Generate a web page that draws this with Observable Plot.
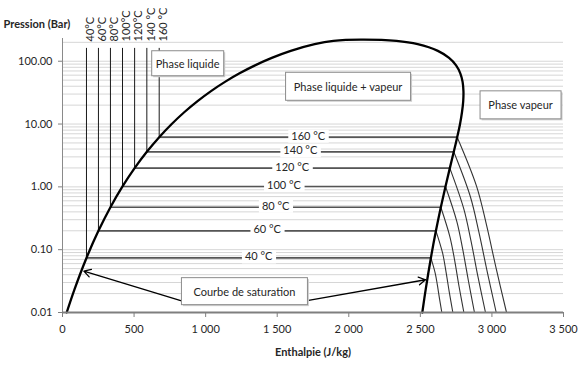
<!DOCTYPE html>
<html><head><meta charset="utf-8">
<script src="https://cdn.jsdelivr.net/npm/d3@7"></script>
<script src="https://cdn.jsdelivr.net/npm/@observablehq/plot@0.6"></script>
<style>body{margin:0;background:#fff;}</style>
</head><body><div id="chart"></div>
<script>
// Isotherms (°C) with saturation pressure (bar), liquid & vapour enthalpy
const tempsC   = [40, 60, 80, 100, 120, 140, 160];
const pSat     = [0.07384, 0.1995, 0.4739, 1.0142, 1.9867, 3.6154, 6.1823];
const hLiquid  = [167.5, 251.1, 334.9, 419.2, 503.8, 589.2, 675.5];
const hVapour  = [2573.5, 2608.8, 2643.0, 2675.6, 2705.9, 2733.4, 2757.4];
const topLabels = ["40°C", "60°C", "80°C", "100°C", "120°C", "140 °C", "160 °C"];
const midLabels = ["40 °C", "60 °C", "80 °C", "100 °C", "120 °C", "140 °C", "160 °C"];
const pLiquidTop = 160;

// Saturation dome
const satH = [29.3, 83.9, 167.5, 251.1, 334.9, 419.2, 503.8, 589.2, 675.5, 763.1, 852.3, 943.6, 1037.6, 1135.0, 1236.9, 1345.0, 1462.2, 1594.5, 1761.7, 1892.6, 2084.3,
              2333.5, 2481.5, 2622.2, 2700.6, 2749.6, 2779.0, 2795.1, 2801.0, 2799.5, 2791.0, 2777.2, 2757.4, 2733.4, 2705.9, 2675.6, 2643.0, 2608.8, 2573.5, 2537.4, 2513.6];
const satP = [0.01, 0.02339, 0.07384, 0.1995, 0.4739, 1.0142, 1.9867, 3.6154, 6.1823, 10.028, 15.549, 23.196, 33.469, 46.923, 64.166, 85.879, 112.84, 146.01, 186.66, 210.44, 220.64,
              210.44, 186.66, 146.01, 112.84, 85.879, 64.166, 46.923, 33.469, 23.196, 15.549, 10.028, 6.1823, 3.6154, 1.9867, 1.0142, 0.4739, 0.1995, 0.07384, 0.02339, 0.01];

// Superheated vapour isotherms (one list per temperature)
const superH = [
  [2573.5, 2604, 2619, 2634, 2650],
  [2608.8, 2656, 2679, 2702, 2727],
  [2643.0, 2706, 2739, 2770, 2804],
  [2675.6, 2755, 2796, 2836, 2878],
  [2705.9, 2803, 2853, 2902, 2955],
  [2733.4, 2850, 2909, 2968, 3030],
  [2757.4, 2893, 2962, 3030, 3102]
];
const superP = [
  [0.07384, 0.0420, 0.0272, 0.0165, 0.01],
  [0.1995, 0.0870, 0.0447, 0.0211, 0.01],
  [0.4739, 0.162, 0.0689, 0.0262, 0.01],
  [1.0142, 0.280, 0.101, 0.0317, 0.01],
  [1.9867, 0.450, 0.141, 0.0375, 0.01],
  [3.6154, 0.690, 0.190, 0.0436, 0.01],
  [6.1823, 1.02, 0.248, 0.0499, 0.01]
];

// Ticks
const xTicks = [0, 500, 1000, 1500, 2000, 2500, 3000, 3500];
const xTickLabels = ["0", "500", "1 000", "1 500", "2 000", "2 500", "3 000", "3 500"];
const yTicks = [0.01, 0.1, 1, 10, 100];
const yTickLabels = ["0.01", "0.10", "1.00", "10.00", "100.00"];

// Annotations (data coordinates)
const noteText = ["Phase liquide", "Phase liquide + vapeur", "Phase vapeur", "Courbe de saturation"];
const noteH = [874, 1995, 3200, 1271];
const noteP = [89.6, 38.5, 19.5, 0.0211];
const arrowFromH = [826, 1709];
const arrowFromP = [0.0155, 0.0155];
const arrowToH = [149, 2536];
const arrowToP = [0.0455, 0.0332];

// Styles
const boxW = [72, 125, 81, 126];
const boxH = [25, 28, 28, 27];

const idx = d3.range(tempsC.length);
const satRows = satH.map((h, i) => ({h, p: satP[i]}));
const superRows = superH.flatMap((hs, k) => hs.map((h, j) => ({T: tempsC[k], h, p: superP[k][j]})));
const gridVals = d3.scaleLog().domain([0.01, 230]).ticks();

const plot = Plot.plot({
  width: 579, height: 365,
  marginLeft: 62, marginRight: 16, marginTop: 38, marginBottom: 53,
  style: {fontFamily: "Lato, sans-serif", fontSize: "11px", color: "#262626", background: "white", overflow: "visible"},
  x: {domain: [0, 3500], label: null},
  y: {type: "log", domain: [0.01, 230], label: null},
  marks: [
    Plot.ruleY(gridVals, {stroke: "#d6d6d6", strokeWidth: 1}),
    Plot.ruleX([0], {stroke: "#8a8a8a", strokeWidth: 1}),
    // liquid isotherms (vertical)
    Plot.ruleX(idx, {x: i => hLiquid[i], y1: i => pSat[i], y2: () => pLiquidTop, stroke: "#1a1a1a", strokeWidth: 1}),
    // two-phase isotherms (horizontal)
    Plot.link(idx, {x1: i => hLiquid[i], x2: i => hVapour[i], y1: i => pSat[i], y2: i => pSat[i], stroke: "#555", strokeWidth: 1.7}),
    // superheated isotherms
    Plot.line(superRows, {x: "h", y: "p", z: "T", stroke: "#333", strokeWidth: 1.1, curve: "catmull-rom"}),
    // saturation curve
    Plot.line(satRows, {x: "h", y: "p", stroke: "black", strokeWidth: 2.3, curve: "catmull-rom"}),
    Plot.ruleY([0.01], {stroke: "#7f7f7f", strokeWidth: 2}),
    // axes
    Plot.axisX({ticks: xTicks, tickFormat: d => xTickLabels[xTicks.indexOf(d)], tickSize: 5, tickPadding: 8, label: null, stroke: "#7f7f7f"}),
    Plot.axisY({ticks: yTicks, tickFormat: d => yTickLabels[yTicks.indexOf(d)], tickSize: 4, tickPadding: 6, label: null, stroke: "#7f7f7f"}),
    // isotherm labels
    Plot.text(idx, {x: i => (hLiquid[i] + hVapour[i]) / 2, y: i => pSat[i], text: i => midLabels[i], dy: -1, fill: "#262626", ariaDescription: "iso-labels"}),
    Plot.text(idx, {x: i => hLiquid[i], frameAnchor: "top", dy: 3, rotate: -90, textAnchor: "start", text: i => topLabels[i], fill: "#262626"}),
    // arrows
    Plot.arrow(d3.range(2), {x1: i => arrowFromH[i], y1: i => arrowFromP[i], x2: i => arrowToH[i], y2: i => arrowToP[i], stroke: "black", strokeWidth: 1.3, headLength: 9, bend: 0}),
    // annotation boxes text
    Plot.text(d3.range(noteText.length), {x: i => noteH[i], y: i => noteP[i], text: i => noteText[i], fill: "#262626", ariaDescription: "notes"}),
    // axis titles
    Plot.text(["Pression (Bar)"], {text: d => d, frameAnchor: "top-left", dx: -59, dy: -18, textAnchor: "start", fontWeight: "bold", fill: "#262626"}),
    Plot.text(["Enthalpie (J/kg)"], {text: d => d, frameAnchor: "bottom", dy: 43, fontWeight: "bold", fill: "#262626"})
  ]
});

document.getElementById("chart").append(plot);
const svg = d3.select(plot);
function groupTexts(desc) {
  return svg.selectAll("g").filter(function() { return this.getAttribute("aria-description") === desc; }).selectAll("text");
}
groupTexts("iso-labels").each(function() {
  const b = this.getBBox();
  const t = this;
  d3.select(this.parentNode).insert("rect", () => t)
    .attr("x", b.x - 3).attr("y", b.y + 1).attr("width", b.width + 6).attr("height", b.height)
    .attr("fill", "white").attr("stroke", "none")
    .attr("transform", this.getAttribute("transform"));
});
groupTexts("notes").each(function(d, k) {
  const b = this.getBBox();
  const t = this;
  const cx = b.x + b.width / 2, cy = b.y + b.height / 2;
  const w = boxW[k], h = boxH[k];
  const g = d3.select(this.parentNode);
  g.insert("rect", () => t)
    .attr("x", cx - w / 2 + 1.5).attr("y", cy - h / 2 + 1.5).attr("width", w).attr("height", h)
    .attr("fill", "#cfcfcf").attr("stroke", "none")
    .attr("transform", this.getAttribute("transform"));
  g.insert("rect", () => t)
    .attr("x", cx - w / 2).attr("y", cy - h / 2).attr("width", w).attr("height", h)
    .attr("fill", "white").attr("stroke", "#8c8c8c").attr("stroke-width", 1)
    .attr("transform", this.getAttribute("transform"));
});
</script>
</body></html>
